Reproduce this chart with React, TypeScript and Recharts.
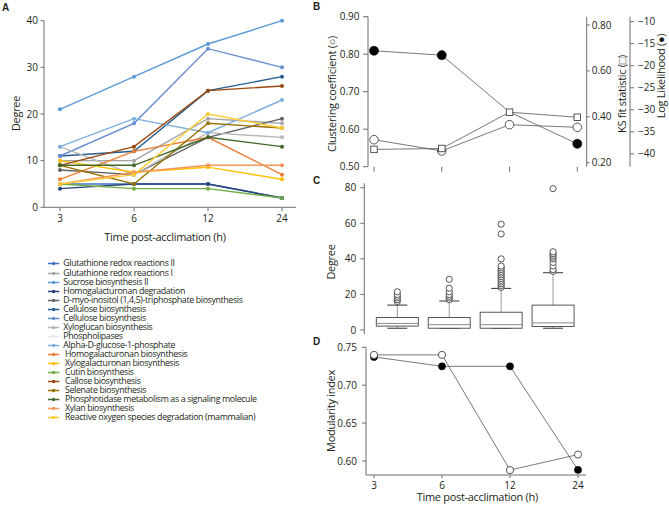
import React from 'react';
import { LineChart, Line, XAxis, YAxis, ComposedChart, Bar } from 'recharts';

const W = 669;
const H = 505;
const FONT = "'Open Sans', 'Noto Sans', sans-serif";
const AXIS = '#6d6e71';
const TEXT = '#231f20';

const timePoints = ['3', '6', '12', '24'];

// ---------- Panel A: degree of pathways ----------
const glutathioneRedoxII = [5, 5, 5, 2];
const glutathioneRedoxI = [10, 10, 19, 18];
const sucroseBiosynthesisII = [21, 28, 35, 40];
const homogalacturonanDegradation = [4, 5, 5, 2];
const dMyoInositol = [8, 7, 15, 19];
const celluloseBiosynthesisA = [11, 12, 25, 28];
const celluloseBiosynthesisB = [11, 18, 34, 30];
const xyloglucanBiosynthesis = [13, 7, 16, 15];
const phospholipases = [10, 10, 19, 18];
const alphaDGlucose = [13, 19, 16, 23];
const homogalacturonanBiosynthesis = [6, 12, 15, 7];
const xylogalacturonanBiosynthesis = [10, 7.5, 8.6, 6];
const cutinBiosynthesis = [5, 4, 4, 2];
const calloseBiosynthesis = [9, 13, 25, 26];
const selenateBiosynthesis = [9, 5, 18, 17];
const phosphotidaseMetabolism = [9, 9, 15, 13];
const xylanBiosynthesis = [5, 7.5, 9, 9];
const rosDegradation = [5, 7, 20, 17];

const pathwaySeries = [
  { key: 'p1', name: 'Glutathione redox reactions II', color: '#4472c4', values: glutathioneRedoxII },
  { key: 'p2', name: 'Glutathione redox reactions I', color: '#a5a5a5', values: glutathioneRedoxI },
  { key: 'p3', name: 'Sucrose biosynthesis II', color: '#5b9bd5', values: sucroseBiosynthesisII },
  { key: 'p4', name: 'Homogalacturonan degradation', color: '#264478', values: homogalacturonanDegradation },
  { key: 'p5', name: 'D-myo-inositol (1,4,5)-triphosphate biosynthesis', color: '#636363', values: dMyoInositol },
  { key: 'p6', name: 'Cellulose biosynthesis', color: '#255e91', values: celluloseBiosynthesisA },
  { key: 'p7', name: 'Cellulose biosynthesis', color: '#698ed0', values: celluloseBiosynthesisB },
  { key: 'p8', name: 'Xyloglucan biosynthesis', color: '#b7b7b7', values: xyloglucanBiosynthesis },
  { key: 'p9', name: 'Phospholipases', color: '#e4e9f2', values: phospholipases, back: true },
  { key: 'p10', name: 'Alpha-D-glucose-1-phosphate', color: '#7cafdd', values: alphaDGlucose },
  { key: 'p11', name: 'Homogalacturonan biosynthesis', color: '#ed7d31', values: homogalacturonanBiosynthesis },
  { key: 'p12', name: 'Xylogalacturonan biosynthesis', color: '#ffc000', values: xylogalacturonanBiosynthesis },
  { key: 'p13', name: 'Cutin biosynthesis', color: '#70ad47', values: cutinBiosynthesis },
  { key: 'p14', name: 'Callose biosynthesis', color: '#9e480e', values: calloseBiosynthesis },
  { key: 'p15', name: 'Selenate biosynthesis', color: '#997300', values: selenateBiosynthesis },
  { key: 'p16', name: 'Phosphotidase metabolism as a signaling molecule', color: '#43682b', values: phosphotidaseMetabolism },
  { key: 'p17', name: 'Xylan biosynthesis', color: '#f1975a', values: xylanBiosynthesis },
  { key: 'p18', name: 'Reactive oxygen species degradation (mammalian)', color: '#ffcd33', values: rosDegradation },
];

const degreeTicks = [0, 10, 20, 30, 40];

// ---------- Panel B ----------
const clusteringCoefficient = [0.572, 0.542, 0.612, 0.605];
const ksFitStatistic = [0.258, 0.262, 0.42, 0.398];
const logLikelihood = [-16.6, -17.6, -30.5, -37.7];
const clusteringTicks = [0.5, 0.6, 0.7, 0.8, 0.9];
const ksTicks = [0.2, 0.4, 0.6, 0.8];
const logTicks = [-40, -35, -30, -25, -20, -15, -10];

// ---------- Panel C: degree distribution ----------
const boxMin = [1, 1, 1, 1];
const boxQ1 = [2.2, 1, 1, 2];
const boxMedian = [3.7, 3, 3, 4];
const boxQ3 = [7, 7, 10, 14];
const boxMax = [14, 16.3, 23.4, 32.2];
const outliers3h = [16, 17, 18, 19, 20, 21.5];
const outliers6h = [17, 18, 19, 20, 21.5, 23.5, 28.5];
const outliers12h = [24, 25, 26, 27, 28, 29, 30, 31, 32, 33, 34, 35, 36, 40, 54, 59.5];
const outliers24h = [33, 34, 36, 38, 40, 41, 42, 43, 44, 79.5];
const boxDegreeTicks = [0, 20, 40, 60, 80];

// ---------- Panel D: modularity ----------
const modularityFilled = [0.7373, 0.7249, 0.7249, 0.5882];
const modularityOpen = [0.74, 0.74, 0.588, 0.6085];
const modularityTicks = [0.6, 0.65, 0.7, 0.75];

// ---------- derived tables ----------
const dataA = timePoints.map((t, i) => {
  const row: any = { time: t };
  pathwaySeries.forEach((s) => (row[s.key] = s.values[i]));
  return row;
});
const dataB = timePoints.map((t, i) => ({
  time: t,
  cc: clusteringCoefficient[i],
  ks: ksFitStatistic[i],
  ll: logLikelihood[i],
}));
const outlierLists = [outliers3h, outliers6h, outliers12h, outliers24h];
const dataC = timePoints.map((t, i) => ({
  time: t,
  min: boxMin[i],
  q1: boxQ1[i],
  median: boxMedian[i],
  q3: boxQ3[i],
  max: boxMax[i],
  outliers: outlierLists[i],
}));
const dataD = timePoints.map((t, i) => ({
  time: t,
  filled: modularityFilled[i],
  open: modularityOpen[i],
}));

const tickStyle = { fontSize: 10, fill: TEXT, fontFamily: FONT };
const fmt2 = (v: number) => v.toFixed(2);
const fmtMinus = (v: number) => (v < 0 ? '\u2212' + Math.abs(v) : String(v));

const OpenCircle = (r: number, color: string) => (p: any) =>
  p.cx == null ? <g key={p.key} /> : (
    <circle key={p.key} cx={p.cx} cy={p.cy} r={r} fill="#fff" stroke={color} strokeWidth={0.9} />
  );
const FilledCircle = (r: number, skip: number[] = []) => (p: any) =>
  p.cx == null || skip.includes(p.index) ? <g key={p.key} /> : (
    <circle key={p.key} cx={p.cx} cy={p.cy} r={r} fill="#000" stroke="#000" strokeWidth={0.5} />
  );
const OpenSquare = (s: number, color: string) => (p: any) =>
  p.cx == null ? <g key={p.key} /> : (
    <rect key={p.key} x={p.cx - s / 2} y={p.cy - s / 2} width={s} height={s} fill="#fff" stroke={color} strokeWidth={0.9} />
  );

const BoxShape = (props: any) => {
  const { x, y, width, height, payload } = props;
  if (x == null || !payload) return <g />;
  const { min, q1, median, q3, max, outliers } = payload;
  const toY = (v: number) => y + (height * (max - v)) / (max - min);
  const cx = x + width / 2;
  const cap = 10;
  return (
    <g>
      <line x1={cx} x2={cx} y1={toY(q3)} y2={toY(max)} stroke="#9a9a9a" strokeWidth={1} />
      <line x1={cx} x2={cx} y1={toY(q1)} y2={toY(min)} stroke="#9a9a9a" strokeWidth={1} />
      <line x1={cx - cap} x2={cx + cap} y1={toY(max)} y2={toY(max)} stroke="#333" strokeWidth={1} />
      <line x1={cx - cap} x2={cx + cap} y1={toY(min)} y2={toY(min)} stroke="#333" strokeWidth={1} />
      <rect x={x} y={toY(q3)} width={width} height={toY(q1) - toY(q3)} fill="#fff" stroke="#444" strokeWidth={0.9} />
      <line x1={x} x2={x + width} y1={toY(median)} y2={toY(median)} stroke="#8a8a8a" strokeWidth={1} />
      {outliers.map((o: number, k: number) => (
        <circle key={k} cx={cx} cy={toY(o)} r={3.1} fill="#fff" stroke="#444" strokeWidth={0.9} />
      ))}
    </g>
  );
};

const layer: React.CSSProperties = { position: 'absolute', left: 0, top: 0, width: W, height: H };

const RotText = ({ x, y, children, size = 11 }: any) => (
  <text
    x={x}
    y={y}
    transform={`rotate(-90, ${x}, ${y})`}
    textAnchor="middle"
    dominantBaseline="central"
    fontSize={size}
    fill={TEXT}
    fontFamily={FONT}
    letterSpacing={-0.3}
  >
    {children}
  </text>
);
const HText = ({ x, y, children, size = 11, anchor = 'middle', bold = false, family = FONT }: any) => (
  <text
    x={x}
    y={y}
    textAnchor={anchor}
    dominantBaseline={bold ? 'auto' : 'central'}
    fontSize={size}
    fontWeight={bold ? 700 : 400}
    fill={TEXT}
    fontFamily={family}
    letterSpacing={bold ? 0 : -0.3}
  >
    {children}
  </text>
);

const drawOrder = [...pathwaySeries].sort((a: any, b: any) => (a.back ? 0 : 1) - (b.back ? 0 : 1));

export default function App() {
  return (
    <div style={{ position: 'absolute', left: 0, top: 0, width: W, height: H, background: '#fff', fontFamily: FONT }}>
      {/* Panel A */}
      <div style={layer}>
        <LineChart width={W} height={H} data={dataA} margin={{ top: 20.7, left: 0, right: W - 296, bottom: H - 207.3 - 30 }}>
          <XAxis
            dataKey="time"
            padding={{ left: 16, right: 14 }}
            height={30}
            tick={tickStyle}
            tickSize={4}
            tickMargin={4}
            axisLine={{ stroke: AXIS }}
            tickLine={{ stroke: AXIS }}
          />
          <YAxis
            width={44}
            domain={[0, 40]}
            ticks={degreeTicks}
            tick={tickStyle}
            tickSize={3.5}
            tickMargin={2.5}
            axisLine={{ stroke: AXIS }}
            tickLine={{ stroke: AXIS }}
          />
          {drawOrder.map((s) => (
            <Line
              key={s.key}
              dataKey={s.key}
              name={s.name}
              stroke={s.color}
              strokeWidth={1.4}
              dot={{ r: 2, fill: s.color, stroke: s.color, strokeWidth: 0 }}
              isAnimationActive={false}
            />
          ))}
        </LineChart>
      </div>

      {/* Panel B */}
      <div style={layer}>
        <LineChart width={W} height={H} data={dataB} margin={{ top: 16.7, left: 0, right: 0, bottom: H - 166.7 - 10 }}>
          <XAxis
            dataKey="time"
            padding={{ left: 6, right: 9.4 }}
            height={10}
            axisLine={false}
            tickSize={5}
            tickLine={{ stroke: AXIS }}
            tickFormatter={() => ''}
          />
          <XAxis xAxisId="top" dataKey="time" orientation="top" height={0} tick={false} tickLine={false} axisLine={{ stroke: AXIS }} />
          <YAxis
            yAxisId="cc"
            width={368}
            domain={[0.5, 0.9]}
            ticks={clusteringTicks}
            tickFormatter={fmt2}
            tick={tickStyle}
            tickSize={5}
            tickMargin={3.5}
            axisLine={{ stroke: AXIS }}
            tickLine={{ stroke: AXIS }}
          />
          <YAxis
            yAxisId="ks"
            orientation="right"
            width={43.3}
            domain={[0.1826, 0.836]}
            ticks={ksTicks}
            tickFormatter={fmt2}
            tick={tickStyle}
            tickSize={3}
            tickMargin={2}
            axisLine={{ stroke: AXIS }}
            tickLine={{ stroke: AXIS }}
          />
          <YAxis
            yAxisId="ll"
            orientation="right"
            width={39}
            domain={[-42.9, -8.87]}
            ticks={logTicks}
            tickFormatter={fmtMinus}
            tick={tickStyle}
            tickSize={4}
            tickMargin={4}
            axisLine={{ stroke: AXIS }}
            tickLine={{ stroke: AXIS }}
          />
          <Line yAxisId="cc" dataKey="cc" stroke="#555" strokeWidth={0.8} dot={OpenCircle(4.3, '#444')} isAnimationActive={false} />
          <Line yAxisId="ll" dataKey="ll" stroke="#555" strokeWidth={0.8} dot={FilledCircle(4.6, [2])} isAnimationActive={false} />
          <Line yAxisId="ks" dataKey="ks" stroke="#555" strokeWidth={0.8} dot={OpenSquare(6.5, '#444')} isAnimationActive={false} />
        </LineChart>
      </div>

      {/* Panel C */}
      <div style={layer}>
        <ComposedChart width={W} height={H} data={dataC} margin={{ top: 183.3, left: 0, right: W - 586, bottom: H - 334 }}>
          <XAxis dataKey="time" padding={{ left: 7, right: 7 }} height={0} tick={false} tickLine={false} axisLine={{ stroke: AXIS }} />
          <XAxis xAxisId="top" dataKey="time" orientation="top" height={0} tick={false} tickLine={false} axisLine={{ stroke: AXIS }} />
          <YAxis
            width={364.3}
            domain={[-2.25, 82.5]}
            ticks={boxDegreeTicks}
            tick={tickStyle}
            tickSize={4}
            tickMargin={4}
            axisLine={{ stroke: AXIS }}
            tickLine={{ stroke: AXIS }}
          />
          <YAxis yAxisId="right" orientation="right" width={0} domain={[0, 1]} tick={false} tickLine={false} axisLine={{ stroke: AXIS }} />
          <Bar dataKey={(d: any) => [d.min, d.max]} barSize={42} shape={BoxShape} isAnimationActive={false} />
        </ComposedChart>
      </div>

      {/* Panel D */}
      <div style={layer}>
        <LineChart width={W} height={H} data={dataD} margin={{ top: 347.3, left: 0, right: W - 586, bottom: 0 }}>
          <XAxis
            dataKey="time"
            padding={{ left: 8, right: 8 }}
            height={30}
            tick={tickStyle}
            tickSize={3}
            tickMargin={4}
            axisLine={{ stroke: AXIS }}
            tickLine={{ stroke: AXIS }}
          />
          <XAxis xAxisId="top" dataKey="time" orientation="top" height={0} tick={false} tickLine={false} axisLine={{ stroke: AXIS }} />
          <YAxis
            width={366}
            domain={[0.5815, 0.75]}
            ticks={modularityTicks}
            tickFormatter={fmt2}
            tick={tickStyle}
            tickSize={4}
            tickMargin={5}
            axisLine={{ stroke: AXIS }}
            tickLine={{ stroke: AXIS }}
          />
          <YAxis yAxisId="right" orientation="right" width={0} domain={[0, 1]} tick={false} tickLine={false} axisLine={{ stroke: AXIS }} />
          <Line dataKey="filled" stroke="#555" strokeWidth={0.8} dot={FilledCircle(3.6)} isAnimationActive={false} />
          <Line dataKey="open" stroke="#555" strokeWidth={0.8} dot={OpenCircle(3.6, '#444')} isAnimationActive={false} />
        </LineChart>
      </div>

      {/* Titles and panel letters */}
      <svg width={W} height={H} style={{ ...layer, pointerEvents: 'none' }}>
        <HText x={2} y={10.7} size={10} anchor="start" bold family="Arial, 'Liberation Sans', sans-serif">A</HText>
        <HText x={313} y={10} size={10} anchor="start" bold family="Arial, 'Liberation Sans', sans-serif">B</HText>
        <HText x={313} y={184} size={10} anchor="start" bold family="Arial, 'Liberation Sans', sans-serif">C</HText>
        <HText x={313} y={345} size={10} anchor="start" bold family="Arial, 'Liberation Sans', sans-serif">D</HText>

        <RotText x={15} y={113.5}>Degree</RotText>
        <HText x={165} y={236}>Time post-acclimation (h)</HText>

        <RotText x={331.7} y={94}>Clustering coefficient (○)</RotText>
        <RotText x={621} y={94}>KS fit statistic (□)</RotText>
        <RotText x={660.7} y={76}>Log Likelihood (●)</RotText>

        <RotText x={330.7} y={262}>Degree</RotText>

        <RotText x={330.7} y={411}>Modularity index</RotText>
        <HText x={477.3} y={496.7}>Time post-acclimation (h)</HText>
      </svg>

      {/* Legend for panel A */}
      <div style={{ position: 'absolute', left: 47.7, top: 264 - 4.53, width: 260 }}>
        {pathwaySeries.map((s, i) => (
          <div key={s.key} style={{ display: 'flex', alignItems: 'center', height: 9.06, whiteSpace: 'nowrap', overflow: 'visible' }}>
            <svg width={12} height={9} style={{ flex: 'none' }}>
              <line x1={0} x2={11.3} y1={4.5} y2={4.5} stroke={s.color} strokeWidth={1.5} />
              <circle cx={5.6} cy={4.5} r={1.7} fill={s.color} />
            </svg>
            <span
              style={{
                display: 'inline-block',
                height: 9,
                marginLeft: i < 10 ? 3.6 : 5.3,
                fontSize: 8.8,
                lineHeight: '9px',
                color: TEXT,
                letterSpacing: -0.35,
                fontFamily: FONT,
                overflow: 'visible',
              }}
            >
              {s.name}
            </span>
          </div>
        ))}
      </div>
    </div>
  );
}
